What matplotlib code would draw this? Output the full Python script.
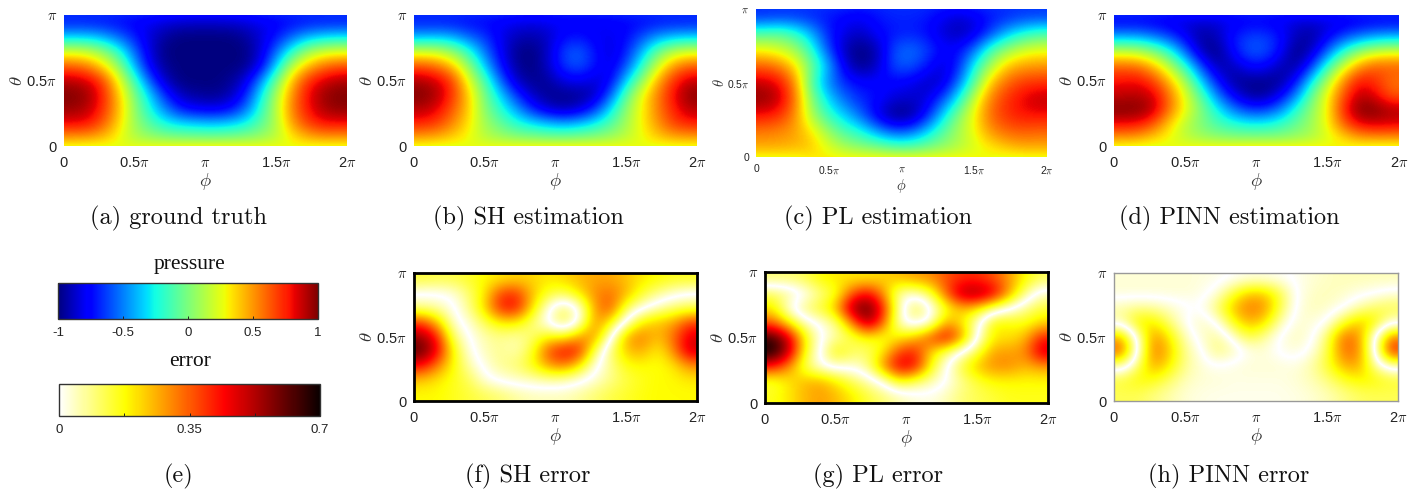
import numpy as np
import matplotlib
matplotlib.use("Agg")
import matplotlib.pyplot as plt
from matplotlib.cm import ScalarMappable
from matplotlib.colors import ListedColormap, Normalize

# grids, top row is theta = pi, left column is phi = 0
truth = [
    [-.72,-.72,-.73,-.75,-.78,-.8,-.84,-.86,-.87,-.87,-.86,-.84,-.8,-.78,-.75,-.73,-.72,-.72],
    [-.35,-.35,-.42,-.55,-.7,-.85,-.95,-1,-1,-1,-1,-.95,-.85,-.72,-.55,-.4,-.33,-.3],
    [.22,.18,.05,-.2,-.55,-.85,-1,-1,-1,-1,-1,-1,-.85,-.55,-.2,.08,.2,.24],
    [.62,.55,.35,.05,-.4,-.8,-.97,-1,-1,-1,-1,-.98,-.8,-.34,.15,.42,.58,.65],
    [.9,.85,.68,.28,-.15,-.6,-.9,-1,-1,-1,-.97,-.85,-.5,-.04,.42,.72,.85,.92],
    [1,.95,.75,.4,0,-.35,-.7,-.9,-.95,-.97,-.92,-.72,-.3,.12,.52,.8,.95,1],
    [.95,.9,.72,.42,.05,-.25,-.5,-.72,-.78,-.8,-.75,-.55,-.2,.15,.55,.78,.92,.97],
    [.8,.78,.62,.36,.08,-.1,-.25,-.3,-.33,-.35,-.32,-.25,-.08,.12,.48,.68,.78,.78],
    [.46,.45,.4,.27,.13,.08,.05,.03,.02,.02,.03,.05,.08,.16,.3,.42,.46,.46],
]
sh_est = [
    [-.72,-.72,-.73,-.75,-.76,-.78,-.8,-.82,-.8,-.78,-.78,-.78,-.78,-.76,-.75,-.73,-.72,-.72],
    [-.4,-.38,-.42,-.55,-.65,-.8,-.9,-.92,-.88,-.75,-.72,-.78,-.8,-.75,-.6,-.45,-.38,-.35],
    [.2,.18,.05,-.2,-.52,-.78,-.97,-1,-.88,-.62,-.55,-.72,-.85,-.7,-.4,-.05,.15,.22],
    [.65,.58,.4,.05,-.35,-.72,-.95,-1,-.88,-.65,-.58,-.72,-.82,-.6,-.2,.2,.5,.62],
    [.92,.85,.68,.25,-.12,-.55,-.88,-.97,-.95,-.82,-.78,-.85,-.78,-.35,.05,.45,.72,.88],
    [1,.92,.7,.38,-.02,-.33,-.65,-.88,-.97,-.98,-.97,-.9,-.58,-.08,.28,.55,.8,.98],
    [.9,.82,.62,.38,.03,-.2,-.42,-.68,-.85,-.92,-.85,-.65,-.3,.05,.3,.55,.75,.9],
    [.74,.68,.52,.33,.1,-.05,-.2,-.28,-.35,-.4,-.35,-.25,-.1,.1,.3,.5,.68,.75],
    [.45,.42,.36,.27,.15,.1,.06,.04,.02,.02,.04,.06,.1,.17,.27,.37,.44,.45],
]
pl_est = [
    [-.7,-.68,-.68,-.7,-.72,-.76,-.78,-.72,-.68,-.68,-.7,-.78,-.85,-.8,-.72,-.7,-.66,-.66],
    [-.12,-.08,-.2,-.42,-.7,-.82,-.88,-.76,-.72,-.7,-.74,-.85,-.92,-.85,-.65,-.4,-.25,-.15],
    [.28,.2,.08,-.22,-.62,-.92,-1,-.92,-.6,-.52,-.6,-.75,-.75,-.55,-.15,.05,.2,.25],
    [.62,.55,.33,-.05,-.4,-.82,-1,-.88,-.6,-.56,-.7,-.85,-.72,-.25,.1,.4,.48,.5],
    [.88,.8,.5,-.15,-.5,-.68,-.75,-.75,-.76,-.8,-.88,-.88,-.55,-.1,.4,.6,.7,.72],
    [.98,.88,.55,0,-.33,-.55,-.68,-.74,-.84,-.86,-.85,-.62,-.28,.2,.55,.72,.82,.9],
    [.78,.72,.5,.1,-.18,-.35,-.55,-.82,-1,-1,-.75,-.35,.02,.3,.6,.72,.78,.78],
    [.55,.52,.47,.33,.08,-.12,-.22,-.42,-.58,-.55,-.35,-.1,.1,.28,.5,.6,.62,.6],
    [.45,.45,.43,.4,.25,.13,.06,.03,-.03,-.05,0,.06,.13,.22,.3,.38,.44,.44],
]
pinn_est = [
    [-.78,-.78,-.8,-.82,-.85,-.86,-.85,-.8,-.78,-.78,-.8,-.85,-.86,-.84,-.82,-.8,-.78,-.78],
    [-.42,-.42,-.5,-.62,-.78,-.95,-.9,-.72,-.62,-.62,-.72,-.9,-.95,-.78,-.62,-.5,-.42,-.38],
    [.18,.15,.02,-.2,-.55,-.9,-1,-.75,-.58,-.58,-.75,-1,-.88,-.55,-.2,.05,.18,.22],
    [.6,.58,.42,.15,-.2,-.62,-.92,-.9,-.75,-.75,-.9,-.95,-.65,-.18,.2,.5,.62,.62],
    [.78,.8,.68,.42,.1,-.35,-.72,-.95,-.97,-.97,-.97,-.75,-.3,.12,.52,.78,.72,.58],
    [.88,.9,.85,.58,.25,-.1,-.5,-.78,-.95,-.97,-.8,-.5,-.05,.3,.65,.9,.82,.62],
    [1,1,.9,.58,.28,.02,-.25,-.5,-.65,-.65,-.5,-.2,.05,.3,.75,1,1,.92],
    [.8,.78,.64,.37,.15,0,-.12,-.2,-.25,-.25,-.18,-.05,.08,.3,.62,.82,.86,.84],
    [.47,.45,.36,.27,.16,.1,.06,.04,.04,.04,.05,.08,.13,.22,.34,.45,.47,.47],
]
# rows just past the two poles, so the top edge turns bright blue and the bottom edge yellow
north = [-.62,-.62,-.62,-.62,-.62,-.62,-.64,-.65,-.65,-.65,-.65,-.64,-.62,-.62,-.62,-.62,-.62,-.62]
south = [.12,.12,.15,.25,.36,.42,.46,.48,.5,.5,.48,.46,.42,.36,.25,.16,.12,.12]

# error grids keep a sign so the white zero lines show up between the lobes
sh_err = [
    [.14,.13,.13,.15,.18,.2,.22,.22,.2,.22,.25,.27,.27,.24,.2,.18,.16,.16],
    [0,0,.02,.1,.2,.38,.4,.25,.15,.12,.2,.3,.33,.26,.15,.08,.03,0],
    [-.08,-.06,-.01,.08,.22,.42,.44,.22,.02,-.12,0,.28,.37,.12,.02,-.05,-.1,-.12],
    [-.38,-.24,-.03,.03,.12,.2,.2,.1,-.01,-.15,0,.3,.2,-.02,-.2,-.24,-.27,-.38],
    [-.55,-.42,-.1,0,.06,.08,.06,.1,.18,.17,.28,.3,.02,-.27,-.32,-.24,-.33,-.48],
    [-.62,-.46,-.18,-.02,.05,.08,.05,.14,.36,.45,.42,.12,-.1,-.24,-.27,-.18,-.3,-.5],
    [-.45,-.32,-.18,-.06,.02,.08,.1,.17,.28,.33,.22,.02,-.08,-.17,-.18,-.17,-.2,-.3],
    [-.24,-.2,-.16,-.12,-.02,.02,.04,.05,.07,.06,.02,-.03,-.08,-.13,-.16,-.18,-.18,-.2],
    [-.18,-.18,-.16,-.14,-.12,-.1,-.07,-.05,-.05,-.05,-.07,-.1,-.13,-.15,-.17,-.18,-.18,-.18],
]
pl_err = [
    [.1,.1,.12,.18,.2,.2,.2,.22,.25,.28,.3,.36,.4,.4,.36,.28,.18,.12],
    [-.12,-.08,-.01,.08,.15,.36,.46,.3,.05,.03,.12,.35,.54,.56,.48,.28,.08,-.05],
    [-.2,-.01,.1,.15,.25,.55,.63,.42,.06,-.16,-.02,.15,.25,.2,.08,0,-.08,-.14],
    [-.35,-.2,-.05,.01,.08,.3,.55,.35,.03,-.05,.02,.28,.2,.02,-.2,-.18,-.16,-.22],
    [-.65,-.5,-.2,-.01,.06,.12,.18,.15,.2,.25,.38,.47,.3,-.01,-.2,-.2,-.25,-.42],
    [-.7,-.52,-.18,.01,.2,.12,.1,.2,.38,.42,.22,.1,-.02,-.14,-.28,-.28,-.3,-.5],
    [-.42,-.3,-.12,-.01,.03,.02,.08,.3,.48,.45,.18,0,-.15,-.25,-.3,-.3,-.25,-.28],
    [-.14,-.2,-.25,-.27,-.2,-.12,-.06,.02,.18,.12,.06,0,-.08,-.14,-.18,-.18,-.18,-.18],
    [-.16,-.2,-.25,-.28,-.25,-.2,-.14,-.1,-.06,-.03,-.02,-.05,-.1,-.12,-.14,-.16,-.16,-.16],
]
pinn_err = [
    [.03,.03,.03,.03,.03,.025,.02,0,-.02,-.02,-.01,.01,.03,.04,.05,.05,.05,.05],
    [.03,.03,.03,.03,.03,.02,-.02,-.14,-.24,-.24,-.14,0,.04,.05,.04,.02,.005,-.02],
    [-.06,-.08,-.07,-.04,-.01,0,-.1,-.24,-.32,-.3,-.14,.01,.05,.04,.01,-.06,-.11,-.13],
    [-.06,-.2,-.2,-.1,0,.05,0,-.16,-.26,-.22,-.06,.03,.03,0,-.14,-.24,-.2,-.04],
    [.25,-.03,-.3,-.2,-.05,.03,.08,-.02,-.14,-.08,.01,.05,.02,-.1,-.33,-.31,-.01,.3],
    [.36,0,-.33,-.24,-.08,-.01,.1,.06,-.01,-.03,.01,.03,-.01,-.12,-.33,-.32,0,.42],
    [.08,-.1,-.28,-.2,-.08,-.03,-.005,-.02,-.03,-.03,-.03,-.02,-.06,-.14,-.26,-.28,-.08,.06],
    [-.14,-.18,-.17,-.11,-.05,-.03,-.03,-.02,-.02,-.02,-.02,-.03,-.05,-.09,-.15,-.19,-.18,-.15],
    [-.12,-.12,-.09,-.06,-.03,-.02,-.015,-.015,-.015,-.015,-.015,-.02,-.03,-.05,-.08,-.11,-.12,-.12],
]

x_ticks = [0, 0.5, 1, 1.5, 2]
x_labels = ["0", r"0.5$\pi$", r"$\pi$", r"1.5$\pi$", r"2$\pi$"]
y_ticks = [0, 0.5, 1]
y_labels = ["0", r"0.5$\pi$", r"$\pi$"]

W, H = 1415, 490
plt.rcParams["font.family"] = ["Liberation Sans", "DejaVu Sans"]
plt.rcParams["mathtext.fontset"] = "cm"
fig = plt.figure(figsize=(W / 100, H / 100), dpi=100)


def px_axes(x0, y0, x1, y1):
    return fig.add_axes([x0 / W, 1 - y1 / H, (x1 - x0) / W, (y1 - y0) / H])


# hot_r folded around zero, so a signed grid draws as its magnitude
hot = plt.get_cmap("hot_r")
folded = ListedColormap(np.vstack([hot(np.linspace(1, 0, 256)), hot(np.linspace(0, 1, 256))]))


def panel(grid, box, is_error=False, fs=10.5, pad=7, edge=None, lw=0, xpad=1, ypad=0):
    ax = px_axes(*box)
    if is_error:
        ax.imshow(np.array(grid), cmap=folded, vmin=-0.7, vmax=0.7, extent=[0, 2, 0, 1], aspect="auto",
                  interpolation="bicubic", interpolation_stage="data")
    else:
        rows = np.vstack([north, grid, south])
        ax.imshow(rows, cmap="jet", vmin=-1, vmax=1, extent=[0, 2, -1 / 9, 10 / 9], aspect="auto",
                  interpolation="bicubic", interpolation_stage="data")
    ax.set_xlim(0, 2)
    ax.set_ylim(0, 1)
    ax.set_xticks(x_ticks, x_labels)
    ax.set_yticks(y_ticks, y_labels)
    ax.tick_params(axis="x", length=0, labelsize=fs, pad=pad, colors="#222222")
    ax.tick_params(axis="y", length=0, labelsize=fs, pad=5, colors="#222222")
    ax.set_xlabel(r"$\phi$", fontsize=fs + 3, labelpad=xpad, color="#333333")
    ax.set_ylabel(r"$\theta$", fontsize=fs + 3, labelpad=ypad, color="#333333")
    for s in ax.spines.values():
        s.set_linewidth(lw)
        if edge:
            s.set_edgecolor(edge)
    return ax


panel(truth, (64, 15, 347, 146))
panel(sh_est, (414, 15, 697, 146))
panel(pl_est, (756, 9, 1047, 157), fs=7.5, pad=5)
panel(pinn_est, (1114, 15, 1399, 146))
panel(sh_err, (414, 273, 697, 401), True, edge="black", lw=2)
panel(pl_err, (765, 272, 1048, 403), True, edge="black", lw=2)
panel(pinn_err, (1114, 273, 1398, 401), True, edge="#999999", lw=1)


def bar(box, cmap, vmin, vmax, ticks, labels, title, title_y):
    cax = px_axes(*box)
    cb = fig.colorbar(ScalarMappable(Normalize(vmin, vmax), cmap), cax=cax, orientation="horizontal")
    cb.set_ticks(ticks, labels=labels)
    cax.tick_params(direction="in", length=2, width=0.7, labelsize=9.5, pad=6, colors="#222222")
    cb.outline.set_linewidth(1)
    cb.outline.set_edgecolor("#333333")
    fig.text(((box[0] + box[2]) / 2 + 1) / W, 1 - title_y / H, title, family="Liberation Serif",
             fontsize=15.5, ha="center", va="center", color="#111111")


bar((58, 283, 318, 319), "jet", -1, 1, [-1, -0.5, 0, 0.5, 1], ["-1", "-0.5", "0", "0.5", "1"], "pressure", 264)
bar((59, 384, 320, 416), "hot_r", 0, 0.7, [0, 0.175, 0.35, 0.525, 0.7], ["0", "", "0.35", "", "0.7"], "error", 361)

captions = [
    ("(a) ground truth", 178, 218), ("(b) SH estimation", 528, 218),
    ("(c) PL estimation", 878, 218), ("(d) PINN estimation", 1229, 218),
    ("(e)", 178, 476), ("(f) SH error", 528, 476),
    ("(g) PL error", 878, 476), ("(h) PINN error", 1229, 476),
]
for text, cx, cy in captions:
    fig.text(cx / W, 1 - cy / H, text, family="cmr10", fontsize=17.5, ha="center", va="center", color="#111111")

fig.savefig("out.png", dpi=100)
plt.close(fig)
